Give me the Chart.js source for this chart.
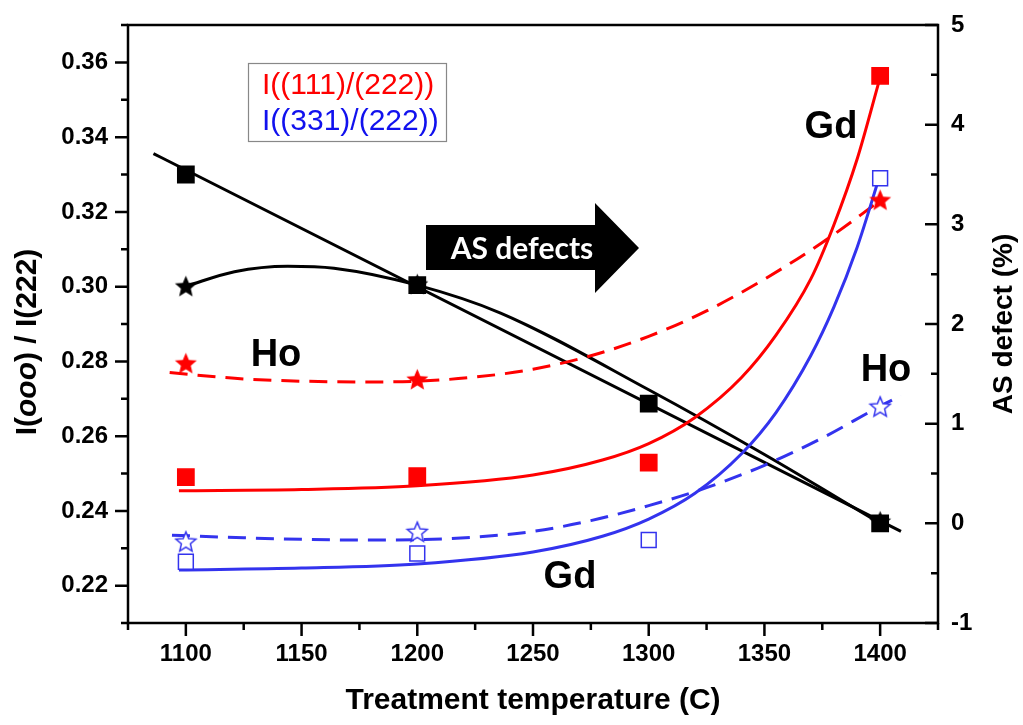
<!DOCTYPE html>
<html>
<head>
<title>I(ooo)/I(222) and AS defect vs treatment temperature</title>
<script src="https://cdn.jsdelivr.net/npm/chart.js"></script>
<style>
  html, body { margin: 0; padding: 0; background: #fff; }
</style>
</head>
<body>
<canvas id="chart" width="1023" height="725"></canvas>
<script>
// measured points
const temps = [1100, 1200, 1300, 1400];
const gd111 = [0.2490, 0.2493, 0.2529, 0.3564];
const gd331 = [0.2264, 0.2286, 0.2322, 0.3290];
const gdDefect = [3.50, 2.39, 1.20, 0.00];

const hoTemps = [1100, 1200, 1400];
const ho111 = [0.2795, 0.2752, 0.3232];
const ho331 = [0.2318, 0.2344, 0.2679];
const hoDefect = [2.38, 2.40, 0.02];

// fitted curves
const gd111FitX = [1097, 1150, 1200, 1250, 1280, 1300, 1320, 1340, 1355, 1370, 1380, 1390, 1400];
const gd111FitY = [0.2454, 0.2457, 0.2467, 0.2496, 0.2536, 0.2580, 0.2650, 0.2756, 0.2870, 0.3020, 0.3165, 0.3340, 0.3560];
const gd331FitX = [1097, 1150, 1200, 1250, 1280, 1300, 1320, 1340, 1355, 1370, 1380, 1390, 1400];
const gd331FitY = [0.2242, 0.2247, 0.2258, 0.2290, 0.2332, 0.2378, 0.2447, 0.2552, 0.2663, 0.2815, 0.2945, 0.3104, 0.3300];
const ho111FitX = [1093, 1125, 1150, 1175, 1200, 1225, 1250, 1275, 1300, 1325, 1350, 1375, 1400];
const ho111FitY = [0.2770, 0.2753, 0.2747, 0.2745, 0.2747, 0.2758, 0.2779, 0.2815, 0.2867, 0.2935, 0.3020, 0.3118, 0.3230];
const ho331FitX = [1094, 1125, 1150, 1175, 1200, 1225, 1250, 1275, 1300, 1325, 1350, 1375, 1400, 1409];
const ho331FitY = [0.2335, 0.2328, 0.2324, 0.2322, 0.2323, 0.2330, 0.2345, 0.2374, 0.2414, 0.2462, 0.2522, 0.2595, 0.2680, 0.2708];
const gdDefectFitX = [1086, 1409];
const gdDefectFitY = [3.71, -0.08];
const hoDefectFitX = [1100, 1121, 1144, 1164, 1200, 1236, 1300, 1350, 1400];
const hoDefectFitY = [2.38, 2.525, 2.58, 2.56, 2.39, 2.11, 1.34, 0.69, 0.0];

// axis ticks
const xMajor = [1100, 1150, 1200, 1250, 1300, 1350, 1400];
const xMinor = [1075, 1125, 1175, 1225, 1275, 1325, 1375, 1425];
const yMajor = [0.22, 0.24, 0.26, 0.28, 0.30, 0.32, 0.34, 0.36];
const yMinor = [0.21, 0.23, 0.25, 0.27, 0.29, 0.31, 0.33, 0.35, 0.37];
const y2Major = [-1, 0, 1, 2, 3, 4, 5];
const y2Minor = [-0.5, 0.5, 1.5, 2.5, 3.5, 4.5];

const RED = '#ff0000';
const BLUE = '#3333ee';
const FONT = "'Liberation Sans', Arial, sans-serif";

function pts(xs, ys) {
    return xs.map(function (x, i) { return { x: x, y: ys[i] }; });
}

// 5-point star as an image, used as point style
function starImage(size, fill, stroke, lw) {
    var c = document.createElement('canvas');
    c.width = size; c.height = size;
    var g = c.getContext('2d');
    var R = size / 2 - lw, r = R * 0.45, cx = size / 2, cy = size / 2 + R * 0.08;
    g.beginPath();
    for (var i = 0; i < 10; i++) {
        var a = -Math.PI / 2 + i * Math.PI / 5;
        var rr = i % 2 ? r : R;
        g.lineTo(cx + rr * Math.cos(a), cy + rr * Math.sin(a));
    }
    g.closePath();
    if (fill) { g.fillStyle = fill; g.fill(); }
    if (stroke) { g.strokeStyle = stroke; g.lineWidth = lw; g.lineJoin = 'miter'; g.stroke(); }
    return c;
}

function markers(xs, ys, axis, style, color, fill, radius) {
    return {
        data: pts(xs, ys), yAxisID: axis, showLine: false, order: 0,
        pointStyle: style, pointRadius: radius, pointHoverRadius: radius,
        pointBackgroundColor: fill, pointBorderColor: color, pointBorderWidth: 1.5
    };
}

function fitLine(xs, ys, axis, color, dash) {
    return {
        data: pts(xs, ys), yAxisID: axis, order: 1,
        borderColor: color, borderWidth: 3, borderDash: dash || [],
        pointRadius: 0, fill: false, cubicInterpolationMode: 'monotone'
    };
}

function fixTicks(values) {
    return function (scale) {
        scale.ticks = values.map(function (v) { return { value: v }; });
    };
}

function zeroPad(scale) {
    scale.paddingTop = 0; scale.paddingBottom = 0;
    scale.paddingLeft = 0; scale.paddingRight = 0;
}

var tickFont = { family: FONT, size: 24, weight: 'bold' };

// ticks, frame, axis titles and annotations
var decor = {
    id: 'decor',
    afterDraw: function (chart) {
        var ctx = chart.ctx, a = chart.chartArea;
        var sx = chart.scales.x, sy = chart.scales.y, sy2 = chart.scales.y2;
        ctx.save();
        ctx.strokeStyle = '#000';
        ctx.lineWidth = 2.5;
        ctx.lineCap = 'butt';
        ctx.strokeRect(a.left, a.top, a.right - a.left, a.bottom - a.top);

        ctx.beginPath();
        xMajor.forEach(function (v) { var p = sx.getPixelForValue(v); ctx.moveTo(p, a.bottom); ctx.lineTo(p, a.bottom + 13); });
        xMinor.forEach(function (v) { var p = sx.getPixelForValue(v); ctx.moveTo(p, a.bottom); ctx.lineTo(p, a.bottom + 7); });
        yMajor.forEach(function (v) { var p = sy.getPixelForValue(v); ctx.moveTo(a.left, p); ctx.lineTo(a.left - 13, p); });
        yMinor.forEach(function (v) { var p = sy.getPixelForValue(v); ctx.moveTo(a.left, p); ctx.lineTo(a.left - 7, p); });
        y2Major.forEach(function (v) { var p = sy2.getPixelForValue(v); ctx.moveTo(a.right, p); ctx.lineTo(a.right - 13, p); });
        y2Minor.forEach(function (v) { var p = sy2.getPixelForValue(v); ctx.moveTo(a.right, p); ctx.lineTo(a.right - 7, p); });
        ctx.stroke();

        ctx.fillStyle = '#000';
        ctx.textBaseline = 'middle';

        // x title
        ctx.textAlign = 'center';
        ctx.font = 'bold 30px ' + FONT;
        ctx.fillText('Treatment temperature (C)', (a.left + a.right) / 2, 701);

        // right title
        ctx.save();
        ctx.translate(1004, (a.top + a.bottom) / 2);
        ctx.rotate(-Math.PI / 2);
        ctx.font = 'bold 28px ' + FONT;
        ctx.fillText('AS defect (%)', 0, 0);
        ctx.restore();

        // left title with italic part
        ctx.save();
        ctx.translate(28, 342);
        ctx.rotate(-Math.PI / 2);
        var parts = [['I(', 'bold 30px '], ['ooo', 'italic bold 30px '], [') / I(222)', 'bold 30px ']];
        var total = 0;
        parts.forEach(function (p) { ctx.font = p[1] + FONT; total += ctx.measureText(p[0]).width; });
        var cx = -total / 2;
        ctx.textAlign = 'left';
        parts.forEach(function (p) { ctx.font = p[1] + FONT; ctx.fillText(p[0], cx, 0); cx += ctx.measureText(p[0]).width; });
        ctx.restore();

        // legend box
        ctx.lineWidth = 1.2;
        ctx.strokeStyle = '#888';
        ctx.strokeRect(248.5, 63.5, 198, 78);
        ctx.textAlign = 'left';
        ctx.font = '30px ' + FONT;
        ctx.fillStyle = RED;
        ctx.fillText('I((111)/(222))', 262, 86);
        ctx.fillStyle = '#1111ee';
        ctx.fillText('I((331)/(222))', 262, 122);

        // sample labels
        ctx.fillStyle = '#000';
        ctx.textAlign = 'center';
        ctx.font = 'bold 38px ' + FONT;
        ctx.fillText('Gd', 831, 128);
        ctx.fillText('Ho', 276, 356);
        ctx.fillText('Ho', 886, 371);
        ctx.fillText('Gd', 570, 578);

        // arrow
        ctx.beginPath();
        ctx.moveTo(426, 225); ctx.lineTo(595, 225); ctx.lineTo(595, 203);
        ctx.lineTo(639, 248); ctx.lineTo(595, 293); ctx.lineTo(595, 270);
        ctx.lineTo(426, 270); ctx.closePath();
        ctx.fillStyle = '#000';
        ctx.fill();
        ctx.fillStyle = '#fff';
        ctx.font = "bold 30px Lato, 'Open Sans', sans-serif";
        ctx.fillText('AS defects', 522, 249);
        ctx.restore();
    }
};

var redStar = starImage(25, RED, null, 1);
var blackStar = starImage(25, '#000', null, 1);
var blueStar = starImage(24, '#fff', BLUE, 1.5);

new Chart(document.getElementById('chart'), {
    type: 'line',
    data: {
        datasets: [
            markers(temps, gd111, 'y', 'rect', RED, RED, 11.5),
            markers(temps, gd331, 'y', 'rect', BLUE, '#fff', 10.5),
            markers(hoTemps, ho111, 'y', redStar, RED, RED, 12),
            markers(hoTemps, ho331, 'y', blueStar, BLUE, '#fff', 12),
            markers(temps, gdDefect, 'y2', 'rect', '#000', '#000', 11.5),
            markers(hoTemps, hoDefect, 'y2', blackStar, '#000', '#000', 12),
            fitLine(gd111FitX, gd111FitY, 'y', RED),
            fitLine(gd331FitX, gd331FitY, 'y', BLUE),
            fitLine(ho111FitX, ho111FitY, 'y', RED, [18, 10]),
            fitLine(ho331FitX, ho331FitY, 'y', BLUE, [18, 10]),
            fitLine(gdDefectFitX, gdDefectFitY, 'y2', '#000'),
            fitLine(hoDefectFitX, hoDefectFitY, 'y2', '#000')
        ]
    },
    options: {
        responsive: false,
        animation: false,
        events: [],
        layout: { padding: { top: 25, left: 0, right: 0, bottom: 0 } },
        plugins: { legend: { display: false }, tooltip: { enabled: false } },
        scales: {
            x: {
                type: 'linear', min: 1075, max: 1425,
                afterBuildTicks: fixTicks(xMajor),
                afterFit: function (s) { s.height = 102; zeroPad(s); },
                grid: { display: false, drawTicks: false },
                border: { display: false },
                ticks: { font: tickFont, color: '#000', padding: 17, maxRotation: 0,
                         callback: function (v) { return String(v); } }
            },
            y: {
                type: 'linear', position: 'left', min: 0.21, max: 0.37,
                afterBuildTicks: fixTicks(yMajor),
                afterFit: function (s) { s.width = 128; zeroPad(s); },
                grid: { display: false, drawTicks: false },
                border: { display: false },
                ticks: { font: tickFont, color: '#000', padding: 20,
                         callback: function (v) { return v.toFixed(2); } }
            },
            y2: {
                type: 'linear', position: 'right', min: -1, max: 5,
                afterBuildTicks: fixTicks(y2Major),
                afterFit: function (s) { s.width = 85; zeroPad(s); },
                grid: { display: false, drawTicks: false },
                border: { display: false },
                ticks: { font: tickFont, color: '#000', padding: 13,
                         callback: function (v) { return String(v); } }
            }
        }
    },
    plugins: [decor]
});
</script>
</body>
</html>
